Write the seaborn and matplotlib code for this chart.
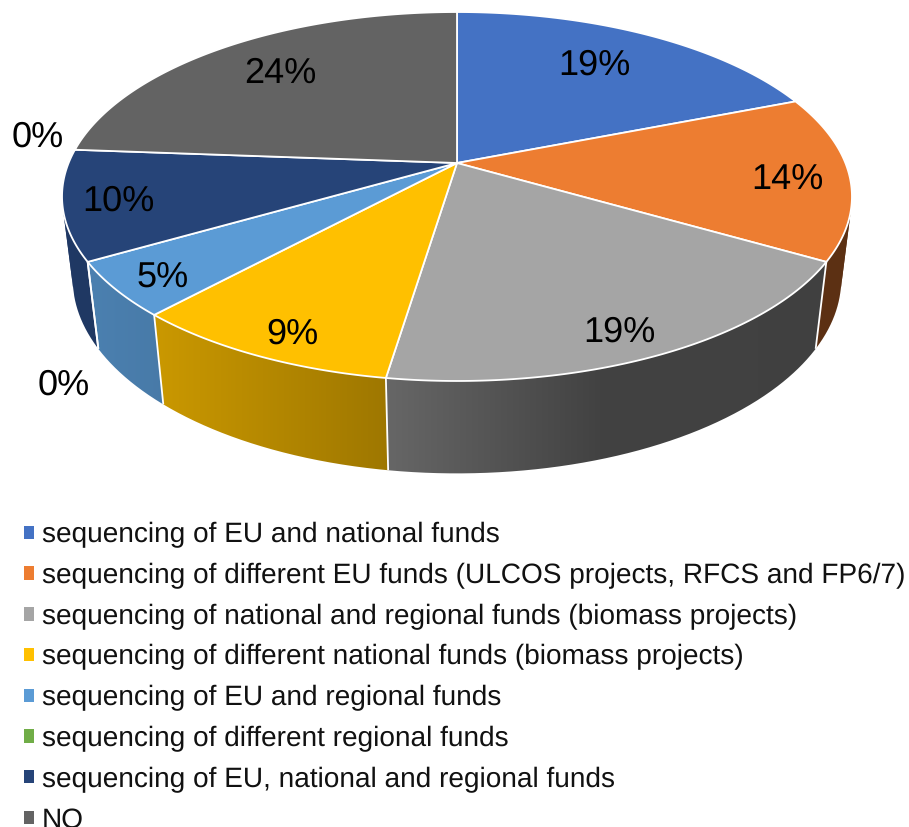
import matplotlib
matplotlib.use("Agg")
import matplotlib.pyplot as plt
import numpy as np
import seaborn as sns
from matplotlib.patches import Patch
from matplotlib.path import Path

legend_names = ["sequencing of EU and national funds",
"sequencing of different EU funds (ULCOS projects, RFCS and FP6/7)",
"sequencing of national and regional funds (biomass projects)",
"sequencing of different national funds (biomass projects)",
"sequencing of EU and regional funds",
"sequencing of different regional funds",
"sequencing of EU, national and regional funds",
"",  # this slice has a 0% label but no legend row
"NO"]

shares = [19.0, 14.4, 19.0, 9.4, 4.8, 0.0, 9.6, 0.0, 23.8]
colors = ["#4472C4", "#ED7D31", "#A5A5A5", "#FFC000", "#5B9BD5", "#70AD47", "#264478", "#9E480E", "#636363"]

# layout, label shift from the point at 3/4 radius on the slice middle
label_shift = [(-10, 2), (37, 7), (19, 32), (-21, 34), (-46, 23), (-123, 150), (-46, 7), (-132, -16), (3, 0)]

# perspective of the tilted disc, in pixels of the picture
cx, cy = 457, 163
rx, ry = 388.4, 178.4
persp = 0.1816
depth_w, depth_y = 0.027, 84


def project(theta, r=1.0, low=False):
    # theta runs clockwise from 12 o'clock
    s, c = np.sin(theta), np.cos(theta)
    w = 1 + persp * r * c
    if low:
        return cx + rx * r * s / (w + depth_w), cy + (-ry * r * c + depth_y) / (w + depth_w)
    return cx + rx * r * s / w, cy - ry * r * c / w


def wall_shade(x):
    return np.interp(x, [60, 160, 388, 600, 860], [0.84, 0.79, 0.62, 0.40, 0.39])


def wall_parts(t):
    # the wall outline folds over itself at the silhouette, cut it there
    xt, yt = project(t)
    xl, yl = project(t, low=True)
    cross = np.gradient(xt) * (yl - yt) - np.gradient(yt) * (xl - xt)
    flips = np.where(np.sign(cross[:-1]) != np.sign(cross[1:]))[0] + 1
    starts = np.r_[0, flips]
    stops = np.r_[flips, len(t) - 1]
    return [t[a:b + 1] for a, b in zip(starts, stops)]


sns.set_theme(style="white")
plt.rcParams['font.family'] = ['Liberation Sans', 'DejaVu Sans']
plt.rcParams['text.hinting'] = 'none'
palette = sns.color_palette(colors)

fig, ax = plt.subplots(figsize=(9.09, 8.27), dpi=100)
ax.set_position([0, 0, 1, 1])

edges = np.cumsum([0] + shares) / sum(shares) * 2 * np.pi
grad_x = np.arange(0, 909)

# side walls first, the top covers whatever is behind
for i, col in enumerate(palette):
    if shares[i] == 0:
        continue
    t = np.linspace(edges[i], edges[i + 1], 400)
    t = t[np.cos(t) < 0.3]
    if len(t) < 2:
        continue
    grad = np.outer(wall_shade(grad_x), np.array(col))[np.newaxis, :, :]
    for part in wall_parts(t):
        if len(part) < 2:
            continue
        xt, yt = project(part)
        xl, yl = project(part[::-1], low=True)
        outline = np.c_[np.r_[xt, xl, xt[0]], np.r_[yt, yl, yt[0]]]
        im = ax.imshow(grad, extent=(0, 909, 827, 0), aspect="auto", zorder=2, interpolation="bilinear")
        im.set_clip_path(Path(outline), transform=ax.transData)

ax.set_xlim(0, 909)
ax.set_ylim(827, 0)
ax.axis("off")

# white seams on the wall
for edge in edges[:-1]:
    if np.cos(edge) > 0.1:
        continue
    xt, yt = project(edge)
    xl, yl = project(edge, low=True)
    ax.plot([xt, xl], [yt, yl], color="white", lw=1.3, zorder=3, solid_capstyle="butt")

# top of the pie
for i, col in enumerate(palette):
    if shares[i] == 0:
        continue
    t = np.linspace(edges[i], edges[i + 1], 200)
    x, y = project(t)
    ax.fill(np.r_[cx, x], np.r_[cy, y], facecolor=col, edgecolor="white", lw=1.3, zorder=4, joinstyle="round")

# percent labels
for i, share in enumerate(shares):
    mid = (edges[i] + edges[i + 1]) / 2
    x, y = project(mid, r=0.75)
    dx, dy = label_shift[i]
    ax.text(x + dx, y + dy, f"{share:.0f}%", fontsize=26, color="black", ha="center", va="center", zorder=5)

handles = [Patch(facecolor=c, edgecolor="none", label=n) for c, n in zip(palette, legend_names) if n]
ax.legend(handles=handles, loc="upper left", bbox_to_anchor=(0.0264, 0.3686), frameon=False,
          fontsize=20.2, labelspacing=0.521, handlelength=0.36, handleheight=0.36,
          handletextpad=0.27, borderpad=0, borderaxespad=0, labelcolor="#111111")

plt.savefig("out.png", dpi=100)
